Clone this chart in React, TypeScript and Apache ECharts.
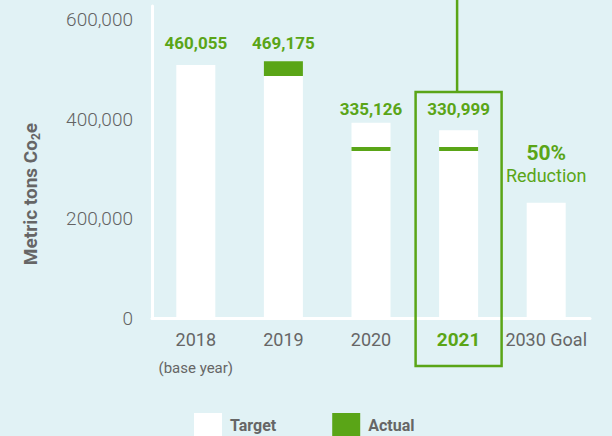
import React, { useEffect, useRef } from 'react';
import * as echarts from 'echarts';

const categories = ['2018', '2019', '2020', '2021', '2030 Goal'];
const targetValues = [509000, 487000, 393000, 378000, 232000];
const actualValues: (number | null)[] = [null, 517000, 340000, 340000, null];
const valueLabels = ['460,055', '469,175', '335,126', '330,999', ''];
const goalLabel = ['50%', 'Reduction'];
const yMin = 0;
const yMax = 628000;
const yInterval = 200000;
const highlightCategory = '2021';
const baseYearNote = '(base year)';

const GREEN = '#5aa517';
const GRAY = '#666666';
const BG = '#e1f2f5';
const FONT = 'Roboto, "Noto Sans", sans-serif';
const labelLift = [-8.5, -19.5, 0, -7.5, -11];

export default function App() {
  const ref = useRef<HTMLDivElement>(null);
  useEffect(() => {
    if (!ref.current) return;
    const chart = echarts.init(ref.current, undefined, { renderer: 'svg' });
    const option: any = {
      animation: false,
      backgroundColor: BG,
      textStyle: { fontFamily: FONT },
      grid: { left: 152, right: 22, top: 6, bottom: 118 },
      legend: {
        data: ['Target', 'Actual'],
        left: 194,
        top: 413,
        padding: 0,
        icon: 'rect',
        itemWidth: 28,
        itemHeight: 24,
        itemGap: 56,
        textStyle: { fontSize: 16, fontWeight: 'bold', color: GRAY, fontFamily: FONT, padding: [0, 0, 0, 3] },
      },
      xAxis: {
        type: 'category',
        data: categories,
        axisLine: { show: true, lineStyle: { color: '#ffffff', width: 3 } },
        axisTick: { show: false },
        axisLabel: {
          margin: 10,
          interval: 0,
          formatter: (v: string) =>
            v === highlightCategory
              ? `{h|${v}}`
              : v === categories[0]
              ? `{y|${v}}\n{s|${baseYearNote}}`
              : `{y|${v}}`,
          rich: {
            y: { fontSize: 18, color: GRAY, lineHeight: 22, fontFamily: FONT },
            h: { fontSize: 19, fontWeight: 'bold', color: GREEN, lineHeight: 22, fontFamily: FONT },
            s: { fontSize: 15, color: GRAY, lineHeight: 35, fontFamily: FONT },
          },
        },
      },
      yAxis: {
        type: 'value',
        min: yMin,
        max: yMax,
        interval: yInterval,
        axisLine: { show: true, lineStyle: { color: '#ffffff', width: 3 } },
        axisTick: { show: false },
        splitLine: { show: false },
        axisLabel: {
          margin: 19,
          showMaxLabel: false,
          fontSize: 19,
          fontWeight: 300,
          color: '#636363',
          fontFamily: FONT,
          formatter: (v: number) => v.toLocaleString('en-US'),
        },
      },
      series: [
        {
          name: 'Target',
          type: 'bar',
          barWidth: 39,
          itemStyle: { color: '#ffffff' },
          z: 2,
          data: targetValues.map((v, i) => ({ value: v, label: { offset: [0, labelLift[i]] } })),
          label: {
            show: true,
            position: 'top',
            distance: 5,
            formatter: (p: any) =>
              p.dataIndex === categories.length - 1
                ? `{p|${goalLabel[0]}}\n{r|${goalLabel[1]}}`
                : `{v|${valueLabels[p.dataIndex]}}`,
            rich: {
              v: { fontSize: 17, fontWeight: 'bold', color: GREEN, fontFamily: FONT, lineHeight: 17 },
              p: { fontSize: 21, fontWeight: 'bold', color: GREEN, fontFamily: FONT, lineHeight: 24 },
              r: { fontSize: 18, color: GREEN, fontFamily: FONT, lineHeight: 22 },
            },
          },
        },
        {
          name: 'Actual',
          type: 'custom',
          itemStyle: { color: GREEN },
          z: 3,
          encode: { x: 0, y: 1 },
          data: actualValues
            .map((a, i) => (a == null ? null : [i, a, targetValues[i]]))
            .filter((d) => d !== null),
          renderItem: (params: any, api: any) => {
            const i = api.value(0);
            const a = api.value(1);
            const t = api.value(2);
            const w = 39;
            const fill = api.visual('color');
            if (a > t) {
              const top = api.coord([i, a]);
              const bot = api.coord([i, t]);
              return {
                type: 'rect',
                shape: { x: top[0] - w / 2, y: top[1], width: w, height: bot[1] - top[1] },
                style: { fill },
              };
            }
            const p = api.coord([i, a]);
            return {
              type: 'rect',
              shape: { x: p[0] - w / 2, y: p[1] - 2, width: w, height: 4 },
              style: { fill },
            };
          },
        },
      ],
    };
    chart.setOption(option);
    const cx = chart.convertToPixel({ xAxisIndex: 0 }, highlightCategory) as number;
    chart.setOption({
      graphic: [
        {
          type: 'text',
          x: 30,
          y: 194,
          rotation: Math.PI / 2,
          style: {
            text: '{a|Metric tons Co}{b|2}{a|e}',
            align: 'center',
            verticalAlign: 'middle',
            rich: {
              a: { fontSize: 19, fontWeight: 'bold', fill: GRAY, fontFamily: FONT, lineHeight: 24, verticalAlign: 'middle' },
              b: { fontSize: 12, fontWeight: 'bold', fill: GRAY, fontFamily: FONT, lineHeight: 24, verticalAlign: 'bottom' },
            },
          },
        },
        {
          type: 'rect',
          shape: { x: cx - 43, y: 92, width: 86, height: 274 },
          style: { fill: 'none', stroke: GREEN, lineWidth: 2.5 },
          z: 10,
        },
        {
          type: 'line',
          shape: { x1: cx - 1.5, y1: 0, x2: cx - 1.5, y2: 92 },
          style: { stroke: GREEN, lineWidth: 2.5 },
          z: 10,
        },
      ],
    });
    return () => chart.dispose();
  }, []);
  return (
    <div
      ref={ref}
      style={{ position: 'fixed', left: 0, top: 0, width: 612, height: 436, background: BG }}
    />
  );
}
